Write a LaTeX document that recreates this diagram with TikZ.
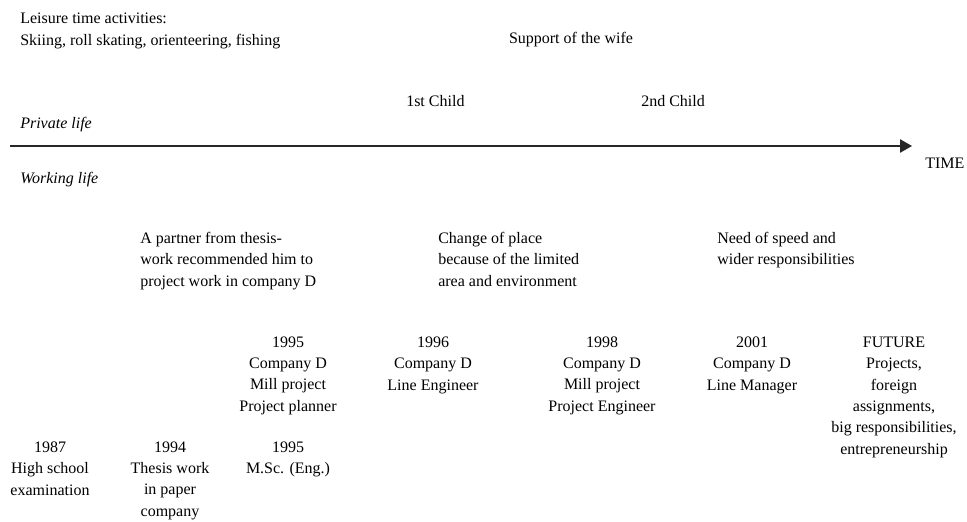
\documentclass[tikz,border=0pt]{standalone}
\usepackage{fontspec}
\setmainfont{Liberation Serif}
\usepackage{tikz}
\usetikzlibrary{arrows.meta,positioning}

\begin{document}
\begin{tikzpicture}[
      x=0.75pt, y=-0.75pt,
      every node/.style={inner sep=0pt, font=\fontsize{12}{16.1}\selectfont},
      note/.style={anchor=base west, align=left},
      event/.style={anchor=base, align=center},
      lifelabel/.style={anchor=base west, font=\fontsize{12}{16.1}\selectfont\itshape},
      timearrow/.style={-{Triangle[length=9pt,width=10pt]}, line width=1.1pt, color=black!85}
    ]
      \useasboundingbox (0,0) rectangle (967,521);

      % private life (multi-line nodes sit on their last baseline)
      \node[note] (leisure) at (20,45) {Leisure time activities:\\Skiing, roll skating, orienteering, fishing};
      \node[event] (wife) at (571,43) {Support of the wife};
      \node[note] (child1) at (406,106) {1st Child};
      \node[note] (child2) at (641,106) {2nd Child};
      \node[lifelabel] (private) at (20,128) {Private life};

      % time axis
      \coordinate (tstart) at (10,146);
      \coordinate (tend) at (912,146);
      \draw[timearrow] (tstart) -- (tend);
      \node[note] (time) at (925,168) {TIME};

      % working life
      \node[lifelabel] (working) at (20,183) {Working life};
      \node[note] (partner) at (140,286) {A partner from thesis-\\work recommended him to\\project work in company D};
      \node[note] (place) at (438,286) {Change of place\\because of the limited\\area and environment};
      \node[note] (speed) at (717,264.5) {Need of speed and\\wider responsibilities};

      \node[event] (y1995b) at (288,411.4) {1995\\Company D\\Mill project\\Project planner};
      \node[event] (y1996) at (433,390) {1996\\Company D\\Line Engineer};
      \node[event] (y1998) at (602,411.4) {1998\\Company D\\Mill project\\Project Engineer};
      \node[event] (y2001) at (752,390) {2001\\Company D\\Line Manager};
      \node[event] (future) at (894,454.4) {FUTURE\\Projects,\\foreign\\assignments,\\big responsibilities,\\entrepreneurship};

      \node[event] (y1987) at (50,495) {1987\\High school\\examination};
      \node[event] (y1994) at (170,516.4) {1994\\Thesis work\\in paper\\company};
      \node[event] (y1995a) at (288,473.5) {1995\\M.Sc. (Eng.)};
    \end{tikzpicture}
\end{document}
